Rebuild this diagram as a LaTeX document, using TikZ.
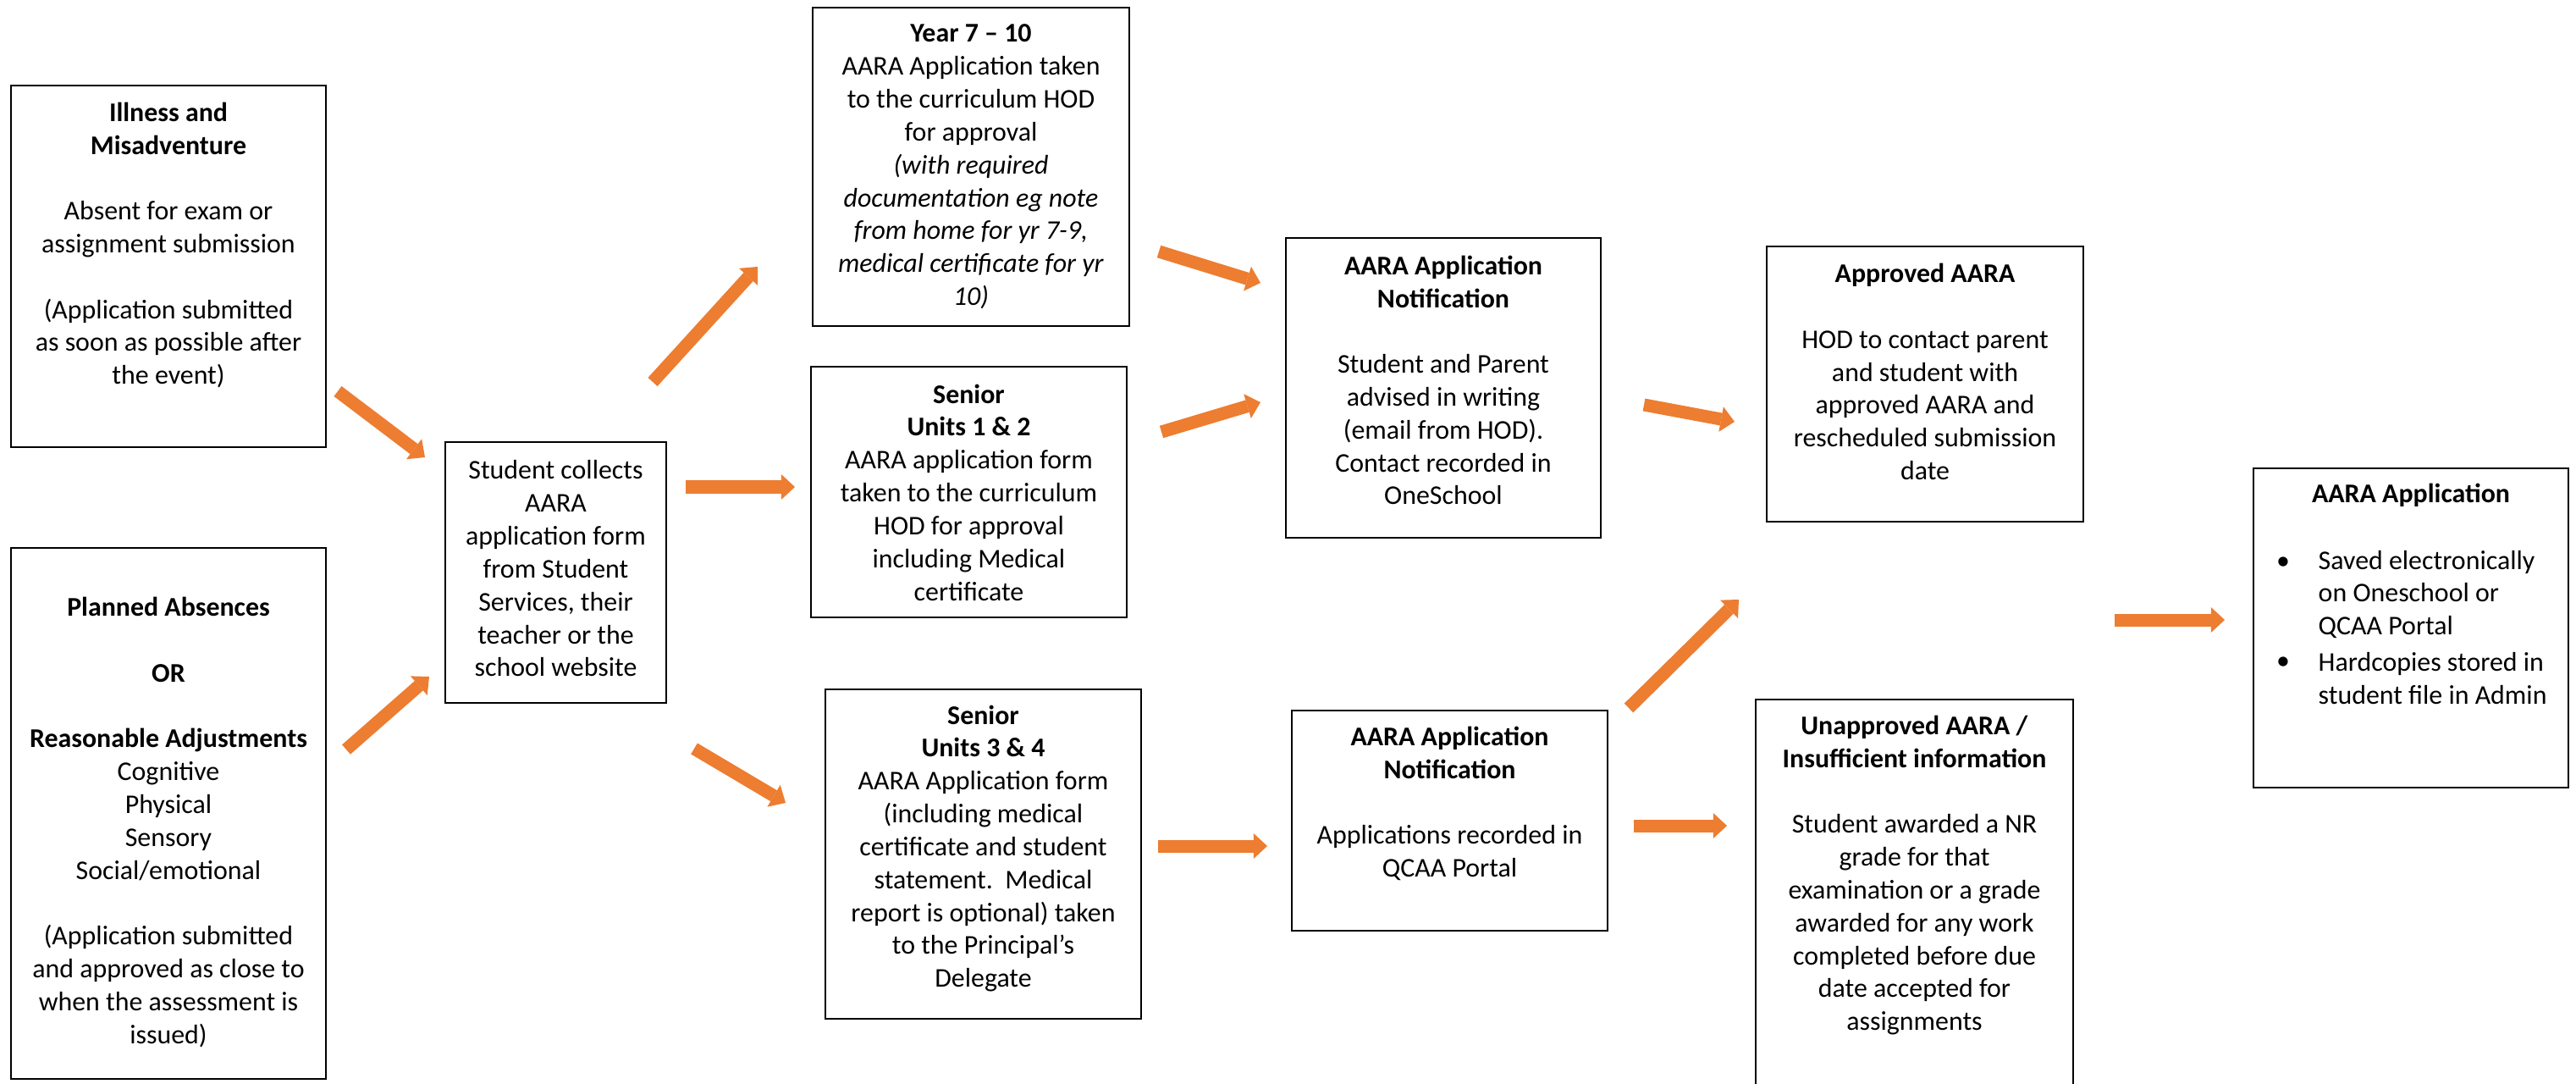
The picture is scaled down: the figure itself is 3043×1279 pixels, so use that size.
\documentclass[tikz,border=0pt]{standalone}
\usepackage{fontspec}
\setmainfont{Carlito}
\usetikzlibrary{arrows.meta}
\definecolor{aorange}{HTML}{ED7D31}
\newcommand{\gapline}{\\[11.04pt]}
\begin{document}
\begin{tikzpicture}[x=0.01cm,y=-0.01cm,
  box/.style={draw=black, line width=0.55pt, inner sep=0pt},
  txt/.style={align=center, inner sep=0pt, font=\fontsize{9.07pt}{11.04pt}\selectfont},
  flow/.style={draw=aorange, line width=4.27pt, -{Triangle[length=4.6pt,width=8.54pt,line width=0pt]}}]
\useasboundingbox (0,0) rectangle (3043,1279);
\fill[white] (0,0) rectangle (3043,1279);

% boxes
\node[box, minimum width=3.72cm, minimum height=4.27cm] (illness) at (199,314.5) {};
\node[box, minimum width=3.72cm, minimum height=6.27cm] (planned) at (199,960.5) {};
\node[box, minimum width=2.61cm, minimum height=3.08cm] (student) at (656.5,676) {};
\node[box, minimum width=3.74cm, minimum height=3.76cm] (year7) at (1147,197) {};
\node[box, minimum width=3.73cm, minimum height=2.96cm] (senior12) at (1144.5,581) {};
\node[box, minimum width=3.73cm, minimum height=3.89cm] (senior34) at (1161.5,1008.5) {};
\node[box, minimum width=3.72cm, minimum height=3.54cm] (notif1) at (1705,458) {};
\node[box, minimum width=3.73cm, minimum height=2.60cm] (notif2) at (1712.5,969) {};
\node[box, minimum width=3.74cm, minimum height=3.25cm] (approved) at (2274,453.5) {};
\node[inner sep=0pt, minimum width=3.73cm, minimum height=4.52cm] (unapproved) at (2261.5,1053) {};
\draw[line width=0.55pt] (unapproved.south west) -- (unapproved.north west) -- (unapproved.north east) -- (unapproved.south east);
\node[box, minimum width=3.72cm, minimum height=3.77cm] (final) at (2848,741.5) {};

% texts
\node[txt] (illnesstxt) at (199,289.5) {\textbf{Illness and}\\\textbf{Misadventure}\gapline Absent for exam or\\assignment submission\gapline (Application submitted\\as soon as possible after\\the event)};
\node[txt] (plannedtxt) at (199,971) {\textbf{Planned Absences}\gapline\textbf{OR}\gapline\textbf{Reasonable Adjustments}\\Cognitive\\Physical\\Sensory\\Social/emotional\gapline (Application submitted\\and approved as close to\\when the assessment is\\issued)};
\node[txt] (studenttxt) at (656.5,671.5) {Student collects\\AARA\\application form\\from Student\\Services, their\\teacher or the\\school website};
\node[txt] (year7txt) at (1147,197) {\textbf{Year 7 – 10}\\AARA Application taken\\to the curriculum HOD\\for approval\\\textit{(with required}\\\textit{documentation eg note}\\\textit{from home for yr 7-9,}\\\textit{medical certificate for yr}\\\textit{10)}};
\node[txt] (senior12txt) at (1144.5,581.5) {\textbf{Senior}\\\textbf{Units 1 \& 2}\\AARA application form\\taken to the curriculum\\HOD for approval\\including Medical\\certificate};
\node[txt] (senior34txt) at (1161.5,1002) {\textbf{Senior}\\\textbf{Units 3 \& 4}\\AARA Application form\\(including medical\\certificate and student\\statement.\ \ Medical\\report is optional) taken\\to the Principal’s\\Delegate};
\node[txt] (notif1txt) at (1705,449) {\textbf{AARA Application}\\\textbf{Notification}\gapline Student and Parent\\advised in writing\\(email from HOD).\\Contact recorded in\\OneSchool};
\node[txt] (notif2txt) at (1712.5,949) {\textbf{AARA Application}\\\textbf{Notification}\gapline Applications recorded in\\QCAA Portal};
\node[txt] (approvedtxt) at (2274,439) {\textbf{Approved AARA}\gapline HOD to contact parent\\and student with\\approved AARA and\\rescheduled submission\\date};
\node[txt] (unapprovedtxt) at (2261.5,1033.5) {\textbf{Unapproved AARA /}\\\textbf{Insufficient information}\gapline Student awarded a NR\\grade for that\\examination or a grade\\awarded for any work\\completed before due\\date accepted for\\assignments};
\node[txt] (finaltitle) at (2848,585) {\textbf{AARA Application}};
\node[txt] (bullet1) at (2697,665) {•};
\node[txt] (bullet2) at (2697,783) {•};
\node[txt, align=left, anchor=west] (item1) at (2738,702) {Saved electronically\\on Oneschool or\\QCAA Portal};
\node[txt, align=left, anchor=west] (item2) at (2738,801) {Hardcopies stored in\\student file in Admin};

% arrow end points
\coordinate (a1s) at (399,462);   \coordinate (a1e) at (502,540);
\coordinate (a2s) at (409,885);   \coordinate (a2e) at (507,799);
\coordinate (a3s) at (771,451);   \coordinate (a3e) at (895,315);
\coordinate (a4s) at (810,575);   \coordinate (a4e) at (939,575);
\coordinate (a5s) at (820,884);   \coordinate (a5e) at (928,948);
\coordinate (a6s) at (1369,297);  \coordinate (a6e) at (1489,334);
\coordinate (a7s) at (1372,510);  \coordinate (a7e) at (1489,475);
\coordinate (a8s) at (1368,999);  \coordinate (a8e) at (1497,999);
\coordinate (a9s) at (1942,478);  \coordinate (a9e) at (2049,498);
\coordinate (a10s) at (1924,836); \coordinate (a10e) at (2054,708);
\coordinate (a11s) at (1930,975); \coordinate (a11e) at (2040,975);
\coordinate (a12s) at (2498,732); \coordinate (a12e) at (2628,732);

\draw[flow] (a1s) -- (a1e);
\draw[flow] (a2s) -- (a2e);
\draw[flow] (a3s) -- (a3e);
\draw[flow] (a4s) -- (a4e);
\draw[flow] (a5s) -- (a5e);
\draw[flow] (a6s) -- (a6e);
\draw[flow] (a7s) -- (a7e);
\draw[flow] (a8s) -- (a8e);
\draw[flow] (a9s) -- (a9e);
\draw[flow] (a10s) -- (a10e);
\draw[flow] (a11s) -- (a11e);
\draw[flow] (a12s) -- (a12e);
\end{tikzpicture}
\end{document}
